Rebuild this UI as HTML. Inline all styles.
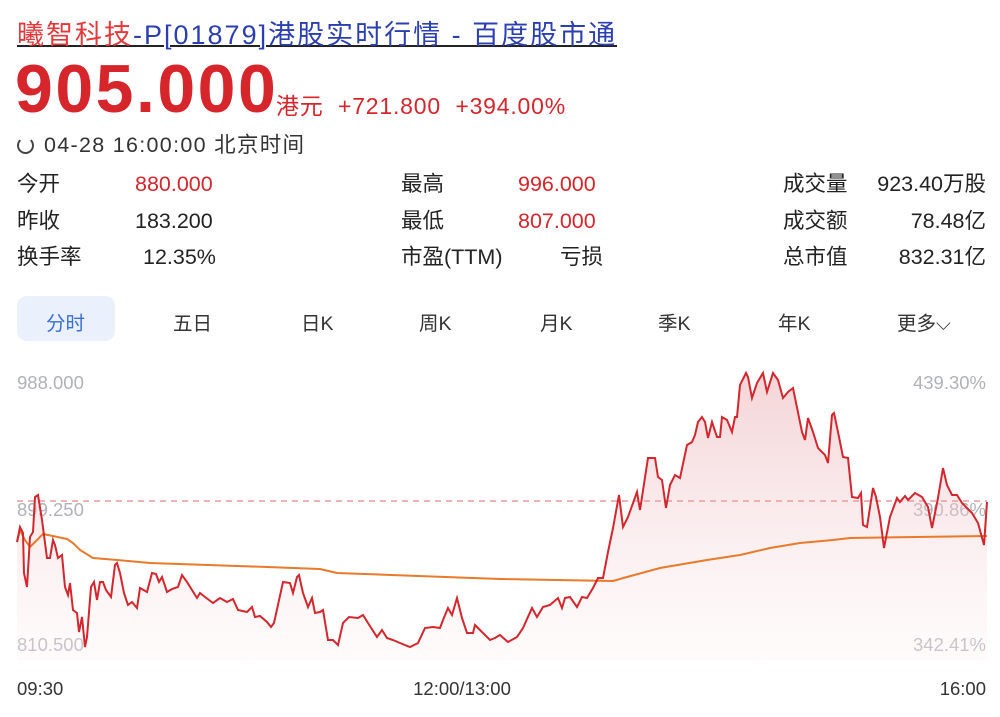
<!DOCTYPE html>
<html><head><meta charset="utf-8"><style>
body{margin:0;width:1000px;height:717px;background:#fff;font-family:"Liberation Sans","Noto Sans CJK SC",sans-serif;position:relative;overflow:hidden;color:#222}
.a{position:absolute;white-space:nowrap}
.lbl{font-size:21.5px;color:#222;line-height:26px}
.r,.lbl.r{color:#d6252b}
.tab{font-size:19.5px;color:#333;top:307px}
</style></head><body>
<div class="a" style="left:17px;top:13px;font-size:27px;letter-spacing:2px;text-decoration:underline;text-decoration-thickness:2px"><span style="color:#e4393c">曦智科技</span><span style="color:#2b3fb0">-P[01879]港股实时行情 - 百度股市通</span></div>
<div class="a r" style="left:15px;top:50px;font-size:68px;font-weight:bold;letter-spacing:2.5px">905.000</div>
<div class="a r" style="left:276px;top:87px;font-size:23px;letter-spacing:0.8px">港元&nbsp; +721.800&nbsp; +394.00%</div>
<div class="a" style="left:17px;top:128px;font-size:21.5px;letter-spacing:1.3px;color:#333"><span style="display:inline-block;width:13px;height:13px;border:2px solid #444;border-radius:50%;border-top-color:transparent;vertical-align:-2px;margin-right:10px"></span>04-28 16:00:00 北京时间</div>
<div class="a lbl" style="left:17px;top:171px">今开</div><div class="a lbl r" style="left:135px;top:171px">880.000</div>
<div class="a lbl" style="left:17px;top:208px">昨收</div><div class="a lbl" style="left:135px;top:208px">183.200</div>
<div class="a lbl" style="left:17px;top:244px">换手率</div><div class="a lbl" style="left:143px;top:244px">12.35%</div>
<div class="a lbl" style="left:401px;top:171px">最高</div><div class="a lbl r" style="left:518px;top:171px">996.000</div>
<div class="a lbl" style="left:401px;top:208px">最低</div><div class="a lbl r" style="left:518px;top:208px">807.000</div>
<div class="a lbl" style="left:401px;top:244px">市盈(TTM)</div><div class="a lbl" style="left:560px;top:244px">亏损</div>
<div class="a lbl" style="left:783px;top:171px">成交量</div><div class="a lbl" style="right:14px;top:171px">923.40万股</div>
<div class="a lbl" style="left:783px;top:208px">成交额</div><div class="a lbl" style="right:14px;top:208px">78.48亿</div>
<div class="a lbl" style="left:783px;top:244px">总市值</div><div class="a lbl" style="right:14px;top:244px">832.31亿</div>
<div class="a" style="left:17px;top:296px;width:98px;height:45px;background:#eaf1fd;border-radius:10px"></div>
<div class="a tab" style="left:46px;color:#3a6fd8">分时</div>
<div class="a tab" style="left:173px">五日</div>
<div class="a tab" style="left:301px">日K</div>
<div class="a tab" style="left:419px">周K</div>
<div class="a tab" style="left:540px">月K</div>
<div class="a tab" style="left:658px">季K</div>
<div class="a tab" style="left:778px">年K</div>
<div class="a tab" style="left:897px">更多⌵</div>
<svg class="a" style="left:0;top:0" width="1000" height="717">
<defs><linearGradient id="g2" x1="0" y1="370" x2="0" y2="660" gradientUnits="userSpaceOnUse"><stop offset="0" stop-color="#e9a9ae" stop-opacity="0.5"/><stop offset="1" stop-color="#fdf3f4" stop-opacity="0.3"/></linearGradient></defs>
<g font-size="18.5" fill="#b0b2b8"><text x="17" y="389">988.000</text><text x="17" y="516">899.250</text><text x="17" y="651">810.500</text>
<text x="986" y="389" text-anchor="end">439.30%</text><text x="986" y="516" text-anchor="end">390.86%</text><text x="986" y="651" text-anchor="end">342.41%</text></g>
<polygon fill="url(#g2)" points="17,660 17,542 20,527 23,533 24,573 27,587 30,537 33,532 35,497 38,495 42,520 47,558 50,558 53,540 55,545 58,558 62,555 65,587 68,595 70,583 73,610 77,613 79,632 82,617 85,647 87,637 91,587 94,582 97,600 100,582 103,582 106,590 111,597 115,565 117,563 120,573 124,593 128,605 132,602 137,608 140,588 147,592 152,573 156,574 159,582 162,577 167,592 172,589 178,587 182,575 187,582 192,590 197,598 200,593 205,597 213,603 220,598 227,602 233,599 238,610 247,612 252,607 255,617 260,616 267,622 271,627 274,623 283,582 290,583 293,593 297,577 299,575 303,593 308,607 312,598 315,613 320,612 323,610 328,640 333,640 338,645 343,623 349,617 358,618 363,615 368,623 377,637 382,630 387,638 393,640 400,643 410,647 418,643 425,628 433,627 440,628 443,620 448,608 452,615 457,598 462,618 467,633 473,633 475,625 482,632 490,640 495,638 500,635 508,642 517,637 523,628 532,608 537,617 543,607 550,605 558,598 562,608 565,598 570,597 577,607 582,597 587,598 593,588 598,578 603,578 608,552 613,528 619,495 623,527 628,517 637,492 640,510 648,458 655,458 658,477 662,480 666,508 670,485 675,475 680,478 687,445 692,442 695,435 698,422 702,417 705,422 708,438 712,422 717,437 720,437 722,417 727,420 732,432 735,417 737,417 740,385 746,373 748,377 752,398 757,383 763,373 767,392 773,373 778,380 783,398 788,392 793,388 802,432 805,440 808,418 813,432 818,448 825,455 828,463 832,415 834,413 838,432 843,457 848,458 852,497 858,498 861,493 863,525 867,527 873,488 876,497 880,517 884,548 890,517 897,498 900,502 905,496 908,500 915,493 922,497 928,507 932,528 938,498 943,468 947,485 952,495 957,495 962,503 972,513 978,523 984,545 987,502 987,660"/>
<line x1="17" y1="501" x2="987" y2="501" stroke="#ef9a9c" stroke-width="1.5" stroke-dasharray="6,5"/>
<polyline fill="none" stroke="#e87a2a" stroke-width="2" points="17,542 20,530 25,540 30,547 37,540 43,534 48,535 67,539 73,543 80,550 93,558 117,560 150,563 267,567 320,569 337,573 500,579 613,581 627,577 660,568 707,560 740,555 770,548 800,543 833,540 850,538 987,536"/>
<polyline fill="none" stroke="#d3262d" stroke-width="2" points="17,542 20,527 23,533 24,573 27,587 30,537 33,532 35,497 38,495 42,520 47,558 50,558 53,540 55,545 58,558 62,555 65,587 68,595 70,583 73,610 77,613 79,632 82,617 85,647 87,637 91,587 94,582 97,600 100,582 103,582 106,590 111,597 115,565 117,563 120,573 124,593 128,605 132,602 137,608 140,588 147,592 152,573 156,574 159,582 162,577 167,592 172,589 178,587 182,575 187,582 192,590 197,598 200,593 205,597 213,603 220,598 227,602 233,599 238,610 247,612 252,607 255,617 260,616 267,622 271,627 274,623 283,582 290,583 293,593 297,577 299,575 303,593 308,607 312,598 315,613 320,612 323,610 328,640 333,640 338,645 343,623 349,617 358,618 363,615 368,623 377,637 382,630 387,638 393,640 400,643 410,647 418,643 425,628 433,627 440,628 443,620 448,608 452,615 457,598 462,618 467,633 473,633 475,625 482,632 490,640 495,638 500,635 508,642 517,637 523,628 532,608 537,617 543,607 550,605 558,598 562,608 565,598 570,597 577,607 582,597 587,598 593,588 598,578 603,578 608,552 613,528 619,495 623,527 628,517 637,492 640,510 648,458 655,458 658,477 662,480 666,508 670,485 675,475 680,478 687,445 692,442 695,435 698,422 702,417 705,422 708,438 712,422 717,437 720,437 722,417 727,420 732,432 735,417 737,417 740,385 746,373 748,377 752,398 757,383 763,373 767,392 773,373 778,380 783,398 788,392 793,388 802,432 805,440 808,418 813,432 818,448 825,455 828,463 832,415 834,413 838,432 843,457 848,458 852,497 858,498 861,493 863,525 867,527 873,488 876,497 880,517 884,548 890,517 897,498 900,502 905,496 908,500 915,493 922,497 928,507 932,528 938,498 943,468 947,485 952,495 957,495 962,503 972,513 978,523 984,545 987,502"/>
<g font-size="18.5" fill="#333"><text x="17" y="695">09:30</text><text x="462" y="695" text-anchor="middle">12:00/13:00</text><text x="986" y="695" text-anchor="end">16:00</text></g>
</svg>
</body></html>
